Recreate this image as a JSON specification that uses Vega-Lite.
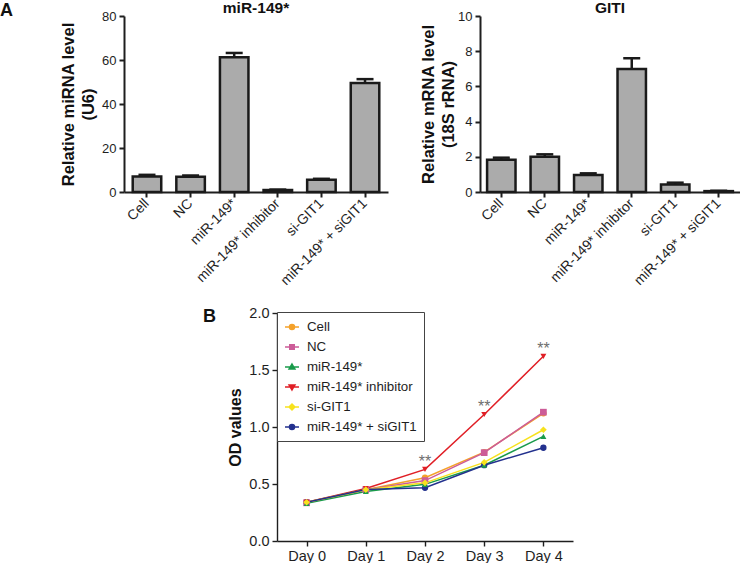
{
  "$schema": "https://vega.github.io/schema/vega-lite/v6.json",
  "background": "white",
  "padding": {"left": 0, "top": 0, "right": 0, "bottom": 0},
  "bounds": "flush",
  "spacing": 297,
  "config": {
    "font": "Liberation Sans",
    "view": {"stroke": null},
    "axis": {"labelFont": "Liberation Sans", "titleFont": "Liberation Sans", "domainColor": "#1e1e1e", "tickColor": "#1e1e1e", "labelColor": "#1e1e1e", "titleColor": "#111111", "grid": false, "labelOverlap": false},
    "title": {"font": "Liberation Sans", "fontWeight": "bold", "color": "#111111"}
  },
  "vconcat": [
    {
      "title": {"text": "A", "anchor": "start", "frame": "group", "dx": -124, "fontSize": 18, "offset": -19},
      "bounds": "flush",
      "spacing": 92,
      "hconcat": [
        {
          "width": 264,
          "height": 176,
          "title": {"text": "miR-149*", "fontSize": 15.5, "offset": -6},
          "data": {"values": [
            {"group": "Cell", "mean": 7.1, "upper": 7.8},
            {"group": "NC", "mean": 6.9, "upper": 7.5},
            {"group": "miR-149*", "mean": 61.3, "upper": 63.2},
            {"group": "miR-149* inhibitor", "mean": 0.9, "upper": 1.1},
            {"group": "si-GIT1", "mean": 5.6, "upper": 6.0},
            {"group": "miR-149* + siGIT1", "mean": 49.6, "upper": 51.3}
          ]},
          "encoding": {
            "x": {"field": "group", "type": "nominal", "sort": null,
              "scale": {"paddingInner": 0.346, "paddingOuter": 0.2},
              "axis": {"title": null, "labelAngle": -45, "labelAlign": "right", "labelBaseline": "middle", "labelFontSize": 14, "labelPadding": 4, "tickSize": 5, "tickWidth": 2, "domainWidth": 2}}
          },
          "layer": [
            {"mark": {"type": "bar", "fill": "#ababab", "stroke": "#1a1a1a", "strokeWidth": 2.5},
              "encoding": {"y": {"field": "mean", "type": "quantitative", "scale": {"domain": [0, 80]},
                "axis": {"values": [0, 20, 40, 60, 80], "labelOverlap": false, "title": ["Relative miRNA level", "(U6)"], "titleFontSize": 16.5, "titleFontWeight": "bold", "titleLineHeight": 20, "titlePadding": 5, "labelFontSize": 13, "labelPadding": 3, "tickSize": 5, "tickWidth": 2, "domainWidth": 2}}}},
            {"mark": {"type": "rule", "strokeWidth": 2.5, "color": "#1a1a1a"},
              "encoding": {"y": {"field": "mean", "type": "quantitative"}, "y2": {"field": "upper"}}},
            {"mark": {"type": "tick", "orient": "horizontal", "size": 17, "thickness": 2.5, "color": "#1a1a1a", "opacity": 1},
              "encoding": {"y": {"field": "upper", "type": "quantitative"}}}
          ]
        },
        {
          "width": 260,
          "height": 176,
          "title": {"text": "GITI", "fontSize": 15.5, "offset": -6},
          "data": {"values": [
            {"group": "Cell", "mean": 1.83, "upper": 1.95},
            {"group": "NC", "mean": 2.0, "upper": 2.14},
            {"group": "miR-149*", "mean": 0.96, "upper": 1.06},
            {"group": "miR-149* inhibitor", "mean": 6.99, "upper": 7.6},
            {"group": "si-GIT1", "mean": 0.42, "upper": 0.53},
            {"group": "miR-149* + siGIT1", "mean": 0.05, "upper": 0.07}
          ]},
          "encoding": {
            "x": {"field": "group", "type": "nominal", "sort": null,
              "scale": {"paddingInner": 0.346, "paddingOuter": 0.163},
              "axis": {"title": null, "labelAngle": -45, "labelAlign": "right", "labelBaseline": "middle", "labelFontSize": 14, "labelPadding": 4, "tickSize": 5, "tickWidth": 2, "domainWidth": 2}}
          },
          "layer": [
            {"mark": {"type": "bar", "fill": "#ababab", "stroke": "#1a1a1a", "strokeWidth": 2.5},
              "encoding": {"y": {"field": "mean", "type": "quantitative", "scale": {"domain": [0, 10], "nice": false},
                "axis": {"values": [0, 2, 4, 6, 8, 10], "tickCount": 6, "labelOverlap": false, "labelBound": false, "labelFlush": false, "title": ["Relative mRNA level", "(18S rRNA)"], "titleFontSize": 16.5, "titleFontWeight": "bold", "titleLineHeight": 20, "titlePadding": 1, "labelFontSize": 13, "labelPadding": 3, "tickSize": 5, "tickWidth": 2, "domainWidth": 2}}}},
            {"mark": {"type": "rule", "strokeWidth": 2.5, "color": "#1a1a1a"},
              "encoding": {"y": {"field": "mean", "type": "quantitative"}, "y2": {"field": "upper"}}},
            {"mark": {"type": "tick", "orient": "horizontal", "size": 17, "thickness": 2.5, "color": "#1a1a1a", "opacity": 1},
              "encoding": {"y": {"field": "upper", "type": "quantitative"}}}
          ]
        }
      ]
    },
    {
      "bounds": "flush",
      "spacing": 10,
      "hconcat": [
        {"width": 143, "height": 10, "mark": {"type": "point", "opacity": 0}, "data": {"values": []}},
        {
          "width": 296,
          "height": 228,
          "title": {"text": "B", "anchor": "start", "frame": "group", "dx": -74, "fontSize": 18, "offset": -21},
          "data": {"values": [
            {"day": "Day 0", "group": "Cell", "od": 0.34},
            {"day": "Day 1", "group": "Cell", "od": 0.45},
            {"day": "Day 2", "group": "Cell", "od": 0.555},
            {"day": "Day 3", "group": "Cell", "od": 0.78},
            {"day": "Day 4", "group": "Cell", "od": 1.12},
            {"day": "Day 0", "group": "NC", "od": 0.335},
            {"day": "Day 1", "group": "NC", "od": 0.45},
            {"day": "Day 2", "group": "NC", "od": 0.53},
            {"day": "Day 3", "group": "NC", "od": 0.775},
            {"day": "Day 4", "group": "NC", "od": 1.13},
            {"day": "Day 0", "group": "miR-149*", "od": 0.33},
            {"day": "Day 1", "group": "miR-149*", "od": 0.435},
            {"day": "Day 2", "group": "miR-149*", "od": 0.497},
            {"day": "Day 3", "group": "miR-149*", "od": 0.665},
            {"day": "Day 4", "group": "miR-149*", "od": 0.918},
            {"day": "Day 0", "group": "miR-149* inhibitor", "od": 0.34},
            {"day": "Day 1", "group": "miR-149* inhibitor", "od": 0.46},
            {"day": "Day 2", "group": "miR-149* inhibitor", "od": 0.628},
            {"day": "Day 3", "group": "miR-149* inhibitor", "od": 1.11},
            {"day": "Day 4", "group": "miR-149* inhibitor", "od": 1.62},
            {"day": "Day 0", "group": "si-GIT1", "od": 0.34},
            {"day": "Day 1", "group": "si-GIT1", "od": 0.45},
            {"day": "Day 2", "group": "si-GIT1", "od": 0.51},
            {"day": "Day 3", "group": "si-GIT1", "od": 0.69},
            {"day": "Day 4", "group": "si-GIT1", "od": 0.976},
            {"day": "Day 0", "group": "miR-149* + siGIT1", "od": 0.34},
            {"day": "Day 1", "group": "miR-149* + siGIT1", "od": 0.452},
            {"day": "Day 2", "group": "miR-149* + siGIT1", "od": 0.467},
            {"day": "Day 3", "group": "miR-149* + siGIT1", "od": 0.665},
            {"day": "Day 4", "group": "miR-149* + siGIT1", "od": 0.818}
          ]},
          "encoding": {
            "x": {"field": "day", "type": "ordinal", "sort": null, "scale": {"type": "point", "padding": 0.5},
              "axis": {"title": null, "labelAngle": 0, "labelFontSize": 14.5, "labelPadding": 3, "tickSize": 5, "tickWidth": 1.4, "domainWidth": 1.4}},
            "y": {"field": "od", "type": "quantitative", "scale": {"domain": [0, 2]},
              "axis": {"values": [0, 0.5, 1, 1.5, 2], "format": ".1f", "labelOverlap": false, "title": "OD values", "titleFontSize": 16, "titleFontWeight": "bold", "titlePadding": 5, "labelFontSize": 14.5, "labelPadding": 3, "tickSize": 5, "tickWidth": 1.4, "domainWidth": 1.4}}
          },
          "layer": [
            {"mark": {"type": "line", "strokeWidth": 1.5},
              "encoding": {"color": {"field": "group", "type": "nominal", "sort": null,
                "scale": {"domain": ["Cell", "NC", "miR-149*", "miR-149* inhibitor", "si-GIT1", "miR-149* + siGIT1"], "range": ["#f4a12a", "#cc5c98", "#1a9b4b", "#e01f26", "#f7e21d", "#23318e"]},
                "legend": {"title": null, "orient": "none", "legendX": 153, "legendY": 296, "strokeColor": "#444444", "fillColor": "white", "padding": 7,
                  "labelFont": "Liberation Sans", "labelFontSize": 13.3, "labelColor": "#1e1e1e", "labelOffset": 7, "symbolSize": 196, "rowPadding": 5,
                  "encode": {"symbols": {"update": {
                    "shape": {"signal": "datum.value === 'NC' ? 'M-1,0H1M-0.32,-0.32H0.32V0.32H-0.32Z' : datum.value === 'miR-149*' ? 'M-1,0H1M0,-0.42L0.42,0.3H-0.42Z' : datum.value === 'miR-149* inhibitor' ? 'M-1,0H1M0,0.42L0.42,-0.3H-0.42Z' : datum.value === 'si-GIT1' ? 'M-1,0H1M0,-0.42L0.42,0L0,0.42L-0.42,0Z' : 'M-1,0H1M0.36,0A0.36,0.36,0,1,1,-0.36,0A0.36,0.36,0,1,1,0.36,0Z'"},
                    "fill": {"scale": "color", "field": "value"},
                    "stroke": {"scale": "color", "field": "value"},
                    "strokeWidth": {"value": 1.5},
                    "opacity": {"value": 1}
                  }}}}}}},
            {"transform": [{"filter": "datum.group === 'Cell' || datum.group === 'miR-149* + siGIT1'"}],
              "mark": {"type": "point", "shape": "circle", "filled": true, "opacity": 1, "size": 40},
              "encoding": {"color": {"field": "group", "type": "nominal", "sort": null, "legend": null}}},
            {"transform": [{"filter": "datum.group === 'NC'"}],
              "mark": {"type": "point", "shape": "square", "filled": true, "opacity": 1, "size": 45},
              "encoding": {"color": {"field": "group", "type": "nominal", "sort": null, "legend": null}}},
            {"transform": [{"filter": "datum.group === 'miR-149*'"}],
              "mark": {"type": "point", "shape": "triangle-up", "filled": true, "opacity": 1, "size": 35},
              "encoding": {"color": {"field": "group", "type": "nominal", "sort": null, "legend": null}}},
            {"transform": [{"filter": "datum.group === 'miR-149* inhibitor'"}],
              "mark": {"type": "point", "shape": "triangle-down", "filled": true, "opacity": 1, "size": 35},
              "encoding": {"color": {"field": "group", "type": "nominal", "sort": null, "legend": null}}},
            {"transform": [{"filter": "datum.group === 'si-GIT1'"}],
              "mark": {"type": "point", "shape": "diamond", "filled": true, "opacity": 1, "size": 45},
              "encoding": {"color": {"field": "group", "type": "nominal", "sort": null, "legend": null}}},
            {"data": {"values": [
                {"day": "Day 2", "od": 0.628, "label": "**"},
                {"day": "Day 3", "od": 1.11, "label": "**"},
                {"day": "Day 4", "od": 1.62, "label": "**"}
              ]},
              "mark": {"type": "text", "dy": -7, "fontSize": 16, "color": "#6e6e6e", "font": "Liberation Sans"},
              "encoding": {"text": {"field": "label"}}}
          ]
        }
      ]
    }
  ]
}
